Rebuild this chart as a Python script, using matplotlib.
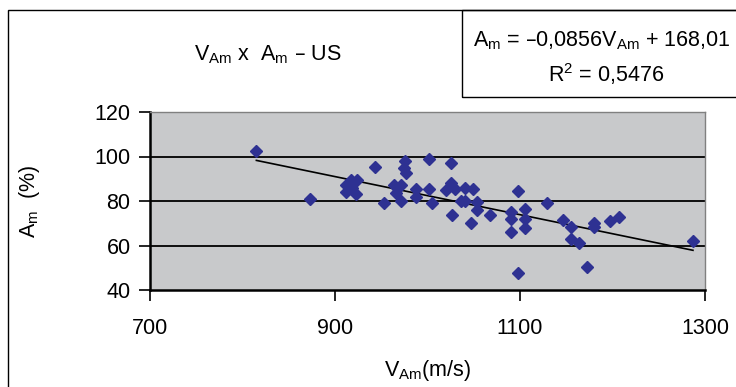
import matplotlib
matplotlib.use("Agg")
import matplotlib.pyplot as plt
from matplotlib.patches import Rectangle
import numpy as np

plt.rcParams['font.family'] = ['Liberation Sans', 'DejaVu Sans']
plt.rcParams['mathtext.default'] = 'regular'

# data: V_Am (m/s) and A_m (%)
v_am = np.array([815, 873, 912, 917, 924, 923, 912, 918, 943, 953,
                 964, 971, 966, 971, 976, 974.5, 977, 988, 988, 1001.5,
                 1001.5, 1005, 1025, 1020, 1025, 1030, 1027, 1040, 1036, 1041,
                 1049, 1054, 1053, 1047, 1068, 1090, 1090, 1090, 1098, 1105,
                 1105, 1105, 1098, 1129, 1147, 1155, 1155, 1164, 1172, 1180,
                 1180, 1197.6, 1207, 1287])
a_m = np.array([102.3, 80.8, 87.1, 89.5, 89.5, 83.0, 84.1, 86.0, 95.2, 79.0,
                87.3, 87.3, 83.8, 80.0, 98.0, 95.0, 92.6, 85.3, 81.6, 98.8,
                85.5, 79.0, 96.9, 84.8, 88.0, 85.5, 73.6, 86.0, 80.0, 80.0,
                85.3, 79.6, 75.9, 70.2, 73.6, 75.0, 71.8, 66.1, 84.3, 76.6,
                72.1, 68.0, 47.5, 79.0, 71.4, 68.4, 62.8, 61.3, 50.3, 70.3,
                68.3, 71.0, 72.8, 61.8])

# linear trend from the chart label
slope = -0.0856
intercept = 168.01

xticks = [700, 900, 1100, 1300]
yticks = [40, 60, 80, 100, 120]

fs = 15.5

W, H = 736, 387
fig = plt.figure(figsize=(W / 100, H / 100), dpi=100)
ax = fig.add_axes([150 / W, 1 - 290 / H, 555 / W, 178 / H])
ax.set_facecolor('#c8c9cb')

for yv in yticks[1:-1]:
    ax.axhline(yv, color='black', lw=1.3, zorder=1)

ax.plot(v_am, a_m, 'D', color='#2e3192', ms=6.5, mec='#2e3192', zorder=3)
xl = np.array([v_am.min(), v_am.max()])
ax.plot(xl, slope * xl + intercept, color='black', lw=1.2, zorder=2)

ax.set_xlim(700, 1300)
ax.set_ylim(40, 120)
ax.set_xticks(xticks)
ax.set_yticks(yticks)
ax.tick_params(direction='out', length=8, width=1.2, labelsize=fs, color='black')
ax.tick_params(axis='x', pad=12)
ax.tick_params(axis='y', pad=6)
for s in ['left', 'bottom']:
    ax.spines[s].set_linewidth(1.8)
for s in ['top', 'right']:
    ax.spines[s].set_color('#808080')
    ax.spines[s].set_linewidth(1.0)

ax.set_xlabel('$V_{Am}$(m/s)', fontsize=fs, labelpad=14)
ax.set_ylabel('$A_m$  (%)', fontsize=fs, labelpad=38)

fig.text(268 / W, 1 - 55 / H, '$V_{Am}$ x  $A_m$ – US', fontsize=fs,
         ha='center', va='center')

# outer frame and equation box
fig.patches.append(Rectangle((8 / W, -0.1), 1.2, 1 - 10 / H + 0.1,
                             transform=fig.transFigure, fill=False,
                             ec='black', lw=1.0))
fig.patches.append(Rectangle((462 / W, 1 - 97 / H), 0.5, 87 / H,
                             transform=fig.transFigure, fill=False,
                             ec='black', lw=1.0))
fig.text(602 / W, 1 - 41 / H, '$A_m$ = –0,0856$V_{Am}$ + 168,01', fontsize=fs,
         ha='center', va='center')
fig.text(606 / W, 1 - 74 / H, '$R^2$ = 0,5476', fontsize=fs,
         ha='center', va='center')

fig.savefig('out.png', dpi=100)
plt.close(fig)
